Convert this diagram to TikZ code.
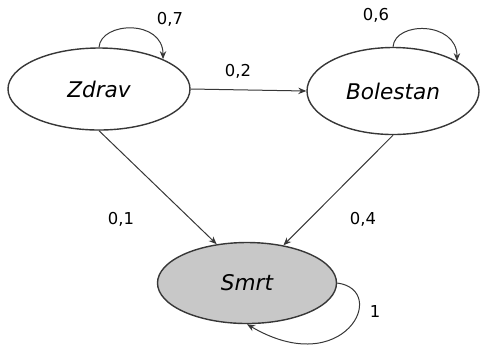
\documentclass[tikz,border=0pt]{standalone}
\usepackage{fontspec}
\setmainfont{DejaVu Sans}
\usetikzlibrary{arrows.meta,shapes.geometric}
\definecolor{linegray}{RGB}{55,55,55}
\definecolor{deadgray}{RGB}{200,200,200}

\begin{document}
\begin{tikzpicture}[
    x=0.5pt,y=-0.5pt,
    >={Stealth[length=4pt,width=3.2pt]},
    stateell/.style={ellipse,draw=linegray,line width=0.7pt,inner sep=0pt,
        font=\fontsize{10.8}{13}\selectfont\itshape},
    trans/.style={->,linegray,line width=0.5pt},
    prob/.style={font=\fontsize{8.2}{10}\selectfont},
]
\useasboundingbox (0,0) rectangle (480,345);

% === states ===
\node[stateell,minimum width=91pt,minimum height=41pt] (zdrav) at (99,89) {Zdrav};
\node[stateell,minimum width=86pt,minimum height=43.5pt] (bolestan) at (393,91) {Bolestan};
\node[stateell,fill=deadgray,minimum width=89.5pt,minimum height=40.5pt] (smrt) at (247,283) {Smrt};

% === transitions ===
\draw[trans] (zdrav.north) .. controls +(2,-26) and +(0,-40) .. (zdrav.25);
\draw[trans] (bolestan.north) .. controls +(2,-26) and +(0,-40) .. (bolestan.25);
\draw[trans] (zdrav.east) -- (bolestan.west);
\draw[trans] (zdrav.south) -- (smrt.128);
\draw[trans] (bolestan.south) -- (smrt.46);
\draw[trans] (smrt.east) .. controls +(53,7) and +(97,57) .. (smrt.south);

% === probabilities ===
\node[prob] (p07) at (170,19) {0,7};
\node[prob] (p06) at (376,15) {0,6};
\node[prob] (p02) at (238,71) {0,2};
\node[prob] (p01) at (121,219) {0,1};
\node[prob] (p04) at (363,219) {0,4};
\node[prob] (p1) at (375,312) {1};
\end{tikzpicture}
\end{document}
